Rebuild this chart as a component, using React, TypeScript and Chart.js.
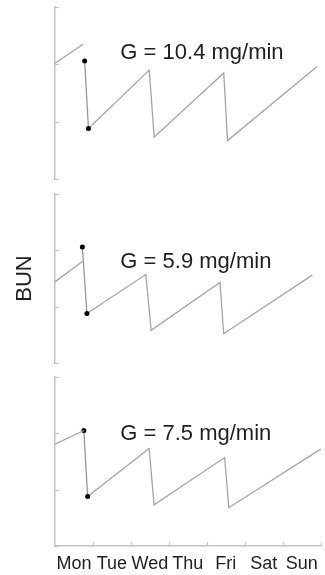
import { useEffect, useRef } from "react";
import { Chart, registerables } from "chart.js";

Chart.register(...registerables);

// ---- data ----
const days = ["Mon", "Tue", "Wed", "Thu", "Fri", "Sat", "Sun"];
const dayLabelPositions = [0.5, 1.5, 2.5, 3.5, 4.5, 5.5, 6.5];
const dayBoundaries = [1, 2, 3, 4, 5, 6, 7];
const yTickValues = [0, 1, 2, 3];

const gLabels = ["G = 10.4 mg/min", "G = 5.9 mg/min", "G = 7.5 mg/min"];
const gLabelX = [1.72, 1.72, 1.72];
const gLabelY = [2.09, 1.69, 1.89];

// [day, BUN (axis units)]
const panel1Before = [[0, 2.02], [0.74, 2.35]];
const panel1Dialysis = [[0.78, 2.06], [0.88, 0.88]];
const panel1After = [[0.88, 0.88], [2.48, 1.9], [2.61, 0.73], [4.44, 1.85], [4.54, 0.67], [6.89, 1.96]];

const panel2Before = [[0, 1.44], [0.74, 1.81]];
const panel2Dialysis = [[0.72, 2.06], [0.84, 0.88]];
const panel2After = [[0.84, 0.88], [2.39, 1.57], [2.53, 0.58], [4.34, 1.43], [4.44, 0.52], [6.77, 1.56]];

const panel3Before = [[0, 1.81], [0.76, 2.05]];
const panel3Dialysis = [[0.76, 2.05], [0.86, 0.88]];
const panel3After = [[0.86, 0.88], [2.48, 1.73], [2.61, 0.73], [4.47, 1.57], [4.58, 0.68], [7.0, 1.72]];

const panelsData = [
  [panel1Before, panel1Dialysis, panel1After],
  [panel2Before, panel2Dialysis, panel2After],
  [panel3Before, panel3Dialysis, panel3After],
];

// ---- styling / layout ----
const FONT = "'Liberation Sans', Arial, Helvetica, sans-serif";
const AXIS_COLOR = "#c4c4c4";
const LINE_COLOR = "#a4a4a4";
const TEXT_COLOR = "#1e1e1e";

const panelLayout = [
  { top: 0, height: 190, padTop: 7, padBottom: 11, showX: false, showTitle: false },
  { top: 190, height: 180, padTop: 4, padBottom: 7, showX: false, showTitle: true },
  { top: 370, height: 205, padTop: 7, padBottom: 0, showX: true, showTitle: false },
];

const toPoints = (arr: number[][]) => arr.map(([x, y]) => ({ x, y }));

function makeChart(canvas: HTMLCanvasElement, idx: number) {
  const layout = panelLayout[idx];
  const [before, dialysis, after] = panelsData[idx];

  const decor = {
    id: "decor" + idx,
    afterDraw(chart: any) {
      const { ctx, chartArea, scales } = chart;
      const xs = scales.x;
      const ys = scales.y;
      ctx.save();
      ctx.strokeStyle = AXIS_COLOR;
      ctx.lineWidth = 1.2;
      // inward y ticks
      yTickValues.forEach((v) => {
        const py = Math.round(ys.getPixelForValue(v)) + 0.5;
        ctx.beginPath();
        ctx.moveTo(chartArea.left, py);
        ctx.lineTo(chartArea.left + 4, py);
        ctx.stroke();
      });
      // inward x ticks
      if (layout.showX) {
        dayBoundaries.forEach((v) => {
          const px = Math.round(xs.getPixelForValue(v)) + 0.5;
          ctx.beginPath();
          ctx.moveTo(px, chartArea.bottom);
          ctx.lineTo(px, chartArea.bottom - 4);
          ctx.stroke();
        });
      }
      // G annotation
      ctx.fillStyle = TEXT_COLOR;
      ctx.font = `22px ${FONT}`;
      ctx.textBaseline = "alphabetic";
      ctx.textAlign = "left";
      ctx.fillText(gLabels[idx], xs.getPixelForValue(gLabelX[idx]), ys.getPixelForValue(gLabelY[idx]));
      ctx.restore();
    },
  };

  return new Chart(canvas, {
    type: "line",
    data: {
      datasets: [
        {
          data: toPoints(before),
          borderColor: LINE_COLOR,
          borderWidth: 1.3,
          pointRadius: 0,
          tension: 0,
        },
        {
          data: toPoints(dialysis),
          borderColor: "#969696",
          borderWidth: 1.3,
          pointRadius: 2.5,
          pointBackgroundColor: "#000",
          pointBorderColor: "#000",
          pointBorderWidth: 0,
          tension: 0,
        },
        {
          data: toPoints(after),
          borderColor: LINE_COLOR,
          borderWidth: 1.3,
          pointRadius: 0,
          tension: 0,
        },
      ],
    },
    options: {
      responsive: false,
      animation: false,
      events: [],
      clip: false as any,
      layout: { padding: { top: layout.padTop, bottom: layout.padBottom, left: 0, right: 3 } },
      plugins: { legend: { display: false }, tooltip: { enabled: false } },
      scales: {
        x: {
          type: "linear",
          min: 0,
          max: 7,
          display: layout.showX,
          afterBuildTicks: (scale: any) => {
            scale.ticks = dayLabelPositions.map((v) => ({ value: v }));
          },
          afterFit: (scale: any) => {
            scale.height = layout.showX ? 29 : 0;
          },
          grid: { display: false, drawTicks: false },
          border: { display: true, color: AXIS_COLOR, width: 1.5 },
          ticks: {
            autoSkip: false,
            maxRotation: 0,
            padding: 7,
            color: TEXT_COLOR,
            font: { family: FONT, size: 18 },
            callback: (_v: any, i: number) => days[i],
          },
        },
        y: {
          type: "linear",
          min: 0,
          max: 3,
          afterFit: (scale: any) => {
            scale.width = 55;
          },
          grid: { display: false, drawTicks: false },
          border: { display: true, color: AXIS_COLOR, width: 1.5 },
          ticks: { display: false },
          title: {
            display: layout.showTitle,
            text: "BUN",
            color: TEXT_COLOR,
            font: { family: FONT, size: 22 },
            padding: { top: 12, bottom: 0 },
          },
        },
      },
    } as any,
    plugins: [decor],
  });
}

export default function App() {
  const refs = [useRef<HTMLCanvasElement>(null), useRef<HTMLCanvasElement>(null), useRef<HTMLCanvasElement>(null)];

  useEffect(() => {
    const charts = refs.map((r, i) => makeChart(r.current as HTMLCanvasElement, i));
    return () => charts.forEach((c) => c.destroy());
  }, []);

  return (
    <div style={{ position: "fixed", left: 0, top: 0, width: 325, height: 575, background: "#fff" }}>
      {panelLayout.map((p, i) => (
        <canvas
          key={i}
          ref={refs[i]}
          width={325}
          height={p.height}
          style={{ position: "absolute", left: 0, top: p.top, width: 325, height: p.height }}
        />
      ))}
    </div>
  );
}
